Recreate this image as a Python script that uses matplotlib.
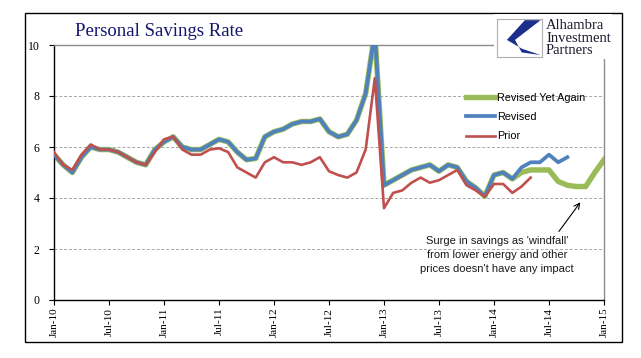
import matplotlib
matplotlib.use("Agg")
import matplotlib.pyplot as plt
from matplotlib.patches import Rectangle, Polygon
from matplotlib.lines import Line2D

# monthly data, Jan-10 .. Jan-15
tick_labels = ["Jan-10", "Jul-10", "Jan-11", "Jul-11", "Jan-12", "Jul-12",
               "Jan-13", "Jul-13", "Jan-14", "Jul-14", "Jan-15"]

revised_yet_again = [5.7, 5.3, 5.0, 5.6, 6.0, 5.9, 5.9, 5.8, 5.6, 5.4, 5.3, 5.9,
                     6.2, 6.4, 6.0, 5.9, 5.9, 6.1, 6.3, 6.2, 5.8, 5.5, 5.55, 6.4,
                     6.6, 6.7, 6.9, 7.0, 7.0, 7.1, 6.6, 6.4, 6.5, 7.05, 8.1, 10.5,
                     4.5, 4.7, 4.9, 5.1, 5.2, 5.3, 5.05, 5.3, 5.2, 4.65, 4.4, 4.07,
                     4.9, 5.0, 4.75, 5.0, 5.1, 5.1, 5.1, 4.65, 4.5, 4.45, 4.45, 5.0, 5.5]
revised = revised_yet_again[:51] + [5.2, 5.4, 5.4, 5.7, 5.4, 5.6]
prior = [5.8, 5.3, 5.1, 5.7, 6.1, 5.9, 5.9, 5.8, 5.6, 5.4, 5.3, 5.8,
         6.3, 6.4, 5.9, 5.7, 5.7, 5.9, 5.95, 5.8, 5.2, 5.0, 4.8, 5.4,
         5.6, 5.4, 5.4, 5.3, 5.4, 5.6, 5.05, 4.9, 4.8, 5.0, 5.9, 8.7,
         3.6, 4.2, 4.3, 4.6, 4.8, 4.6, 4.7, 4.9, 5.1, 4.5, 4.3, 4.05,
         4.55, 4.55, 4.2, 4.45, 4.8]

GREEN = "#9BBB59"
BLUE = "#4F81BD"
RED = "#C0504D"
SERIF = "Liberation Serif"
SANS = "Liberation Sans"

W, H = 641, 358
fig = plt.figure(figsize=(W / 100, H / 100), dpi=100)
fig.patch.set_facecolor("white")

def fx(px):
    return px / W

def fy(py):
    return 1 - py / H

ax = fig.add_axes([fx(54), fy(300), fx(604) - fx(54), fy(45) - fy(300)])

ax.plot(range(len(revised_yet_again)), revised_yet_again, color=GREEN, lw=3.9,
        solid_joinstyle="round", zorder=2)
ax.plot(range(len(revised)), revised, color=BLUE, lw=2.7,
        solid_joinstyle="round", zorder=3)
ax.plot(range(len(prior)), prior, color=RED, lw=1.9,
        solid_joinstyle="round", zorder=4)

ax.set_xlim(0, 60)
ax.set_ylim(0, 10)
ax.set_xticks(range(0, 61, 6))
ax.set_xticklabels(tick_labels, rotation=90, family=SERIF, fontsize=8)
ax.set_yticks(range(0, 11, 2))
ax.set_yticklabels([str(v) for v in range(0, 11, 2)], family=SERIF, fontsize=8.5)
ax.tick_params(direction="out", length=3.5, width=0.8, color="black", pad=2)
ax.tick_params(axis="y", pad=7)

ax.yaxis.grid(True, linestyle=(0, (3, 2)), color="#A6A6A6", lw=0.7)
ax.set_axisbelow(True)
for s in ("left", "bottom"):
    ax.spines[s].set_color("black")
    ax.spines[s].set_linewidth(1.0)
for s in ("top", "right"):
    ax.spines[s].set_color("#8C8C8C")
    ax.spines[s].set_linewidth(1.0)

handles = [Line2D([], [], color=GREEN, lw=3.9),
           Line2D([], [], color=BLUE, lw=2.7),
           Line2D([], [], color=RED, lw=1.9)]
fig.legend(handles, ["Revised Yet Again", "Revised", "Prior"],
           loc="upper left", bbox_to_anchor=(fx(466), fy(93)),
           frameon=False, prop={"family": SANS, "size": 7.8},
           handlelength=2.7, handletextpad=0.15, labelspacing=0.85,
           borderpad=0, borderaxespad=0)

ax.text(48.3, 2.5, "Surge in savings as 'windfall'\nfrom lower energy and other\n"
        "prices doesn't have any impact", ha="center", va="top",
        family=SANS, fontsize=8, linespacing=1.5, color="#1a1a1a")
ax.annotate("", xy=(57.6, 3.92), xytext=(54.9, 2.6),
            arrowprops=dict(arrowstyle="->", color="black", lw=0.8))

fig.text(fx(75), fy(31), "Personal Savings Rate", family=SERIF, fontsize=13.5,
         color="#14146E", va="center", ha="left")

# outer frame
fig.patches.append(Rectangle((fx(25), fy(342)), fx(622) - fx(25), fy(13) - fy(342),
                             transform=fig.transFigure, fill=False,
                             edgecolor="black", lw=1.0, zorder=10))

# logo block
fig.patches.append(Rectangle((fx(494), fy(59)), fx(612) - fx(494), fy(14) - fy(59),
                             transform=fig.transFigure, facecolor="white",
                             edgecolor="none", zorder=11))
lax = fig.add_axes([fx(497), fy(57), fx(542) - fx(497), fy(19) - fy(57)], zorder=12)
lax.set_xlim(0, 1)
lax.set_ylim(0, 1)
lax.set_xticks([])
lax.set_yticks([])
for s in lax.spines.values():
    s.set_color("#B0B0B0")
    s.set_linewidth(0.8)
lax.add_patch(Polygon([(0.97, 0.97), (0.62, 0.97), (0.22, 0.45), (0.55, 0.22),
                       (0.97, 0.05), (0.55, 0.12), (0.4, 0.45)],
                      closed=True, facecolor="#1C2E8C", edgecolor="none"))
fig.text(fx(546), fy(38), "Alhambra\nInvestment\nPartners", family=SERIF,
         fontsize=10.5, color="#1a1a2e", va="center", ha="left", linespacing=0.92,
         zorder=13)

fig.savefig("out.png", dpi=100, facecolor="white")
